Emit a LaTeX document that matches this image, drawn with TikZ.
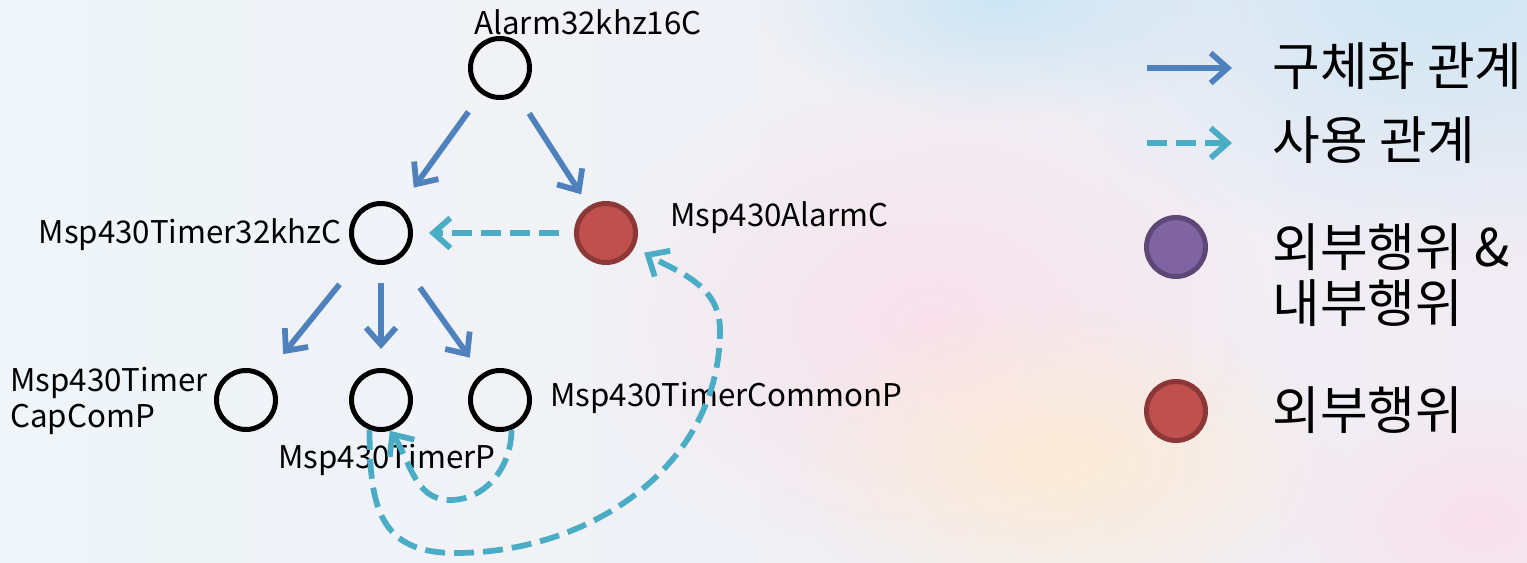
\documentclass[tikz,border=0pt]{standalone}
\usepackage{fontspec}
\setmainfont{Noto Sans CJK KR}
\usetikzlibrary{arrows.meta,fadings}

\definecolor{relblue}{HTML}{4F81BD}
\definecolor{usecyan}{HTML}{4BACC6}
\definecolor{extred}{HTML}{C0504D}
\definecolor{extredline}{HTML}{8C3836}
\definecolor{bothpurple}{HTML}{8064A2}
\definecolor{bothpurpleline}{HTML}{5C4776}
\definecolor{bgleft}{HTML}{EFF5F8}
\definecolor{bgright}{HTML}{F1ECF3}
\definecolor{bgblue}{HTML}{CDE6F4}
\definecolor{bgpink}{HTML}{F9E1EB}
\definecolor{bgpeach}{HTML}{FCEBD6}

\tikzfading[name=blob, inner color=transparent!0, outer color=transparent!100]

\begin{document}
\begin{tikzpicture}[x=0.02cm, y=0.02cm,
    comp/.style={circle, draw, line width=1mm, minimum size=11.8mm, inner sep=0pt},
    ext/.style={comp, fill=extred, draw=extredline},
    both/.style={comp, fill=bothpurple, draw=bothpurpleline},
    lbl/.style={font=\fontsize{17.8}{21}\selectfont, inner sep=0pt},
    key/.style={font=\fontsize{29.5}{31.7}\selectfont, inner sep=0pt, anchor=west, align=left},
    refine/.style={draw=relblue, line width=1.15mm, -{Straight Barb[length=3.4mm,width=6mm]}},
    uses/.style={draw=usecyan, line width=1.15mm, dash pattern=on 4mm off 1.8mm,
                 -{Straight Barb[length=3.4mm,width=6mm]}}]

    % backdrop
    \useasboundingbox (0,0) rectangle (1527,562);
    \shade[left color=bgleft, right color=bgright] (0,0) rectangle (1527,562);
    \fill[bgblue,  path fading=blob] (1440,580) ellipse (420 and 280);
    \fill[bgblue,  path fading=blob] (1000,560) ellipse (250 and 120);
    \fill[bgpink,  path fading=blob] (930,240)  ellipse (340 and 250);
    \fill[bgpeach, path fading=blob] (1060,100) ellipse (280 and 160);
    \fill[bgpink,  path fading=blob] (1480,40)  ellipse (200 and 130);

    % components
    \node[comp] (A)      at (500,494) {};
    \node[comp] (T32)    at (381,329) {};
    \node[ext]  (Alarm)  at (606,329) {};
    \node[comp] (CapCom) at (246,162) {};
    \node[comp] (TimerP) at (381,162) {};
    \node[comp] (Common) at (500,162) {};

    \node[lbl]                          (lA)      at (588,540) {Alarm32khz16C};
    \node[lbl, anchor=east]             (lT32)    at (342,327) {Msp430Timer32khzC};
    \node[lbl, anchor=west]             (lAlarm)  at (670,344) {Msp430AlarmC};
    \node[lbl, anchor=west, align=left] (lCapCom) at (10,161)  {Msp430Timer\\CapComP};
    \node[lbl]                          (lTimerP) at (387,102) {Msp430TimerP};
    \node[lbl, anchor=west]             (lCommon) at (550,164) {Msp430TimerCommonP};

    % refinement
    \draw[refine, shorten <=4.4mm, shorten >=4.8mm] (A)   -- (T32);
    \draw[refine, shorten <=4.4mm, shorten >=2.8mm] (A)   -- (Alarm);
    \draw[refine, shorten <=6.8mm, shorten >=5.4mm] (T32) -- (CapCom);
    \draw[refine, shorten <=3.6mm, shorten >=3.8mm] (T32) -- (TimerP);
    \draw[refine, shorten <=7mm,   shorten >=4mm]   (T32) -- (Common);

    % usage
    \draw[uses, shorten <=3mm, shorten >=3.2mm] (Alarm) -- (T32);
    \draw[uses, shorten >=2.2mm] (TimerP.-111) to[out=-90, in=180, looseness=1.3] (455,9)
        to[out=0, in=-90] (720,232) to[out=90, in=-31] (Alarm.-26);
    \draw[uses] (Common.-69) to[out=-90, in=0] (450,62) to[out=180, in=-55] (TimerP.-74);

    % key
    \coordinate (k1a) at (1147,494);
    \coordinate (k1b) at (1232,494);
    \coordinate (k2a) at (1147,419);
    \coordinate (k2b) at (1232,419);
    \draw[refine] (k1a) -- (k1b);
    \draw[uses]   (k2a) -- (k2b);
    \node[key]  (t1)    at (1272,496) {구체화 관계};
    \node[key]  (t2)    at (1272,422) {사용 관계};
    \node[both] (kboth) at (1176,315) {};
    \node[key]  (t3)    at (1272,287) {외부행위 \&\\내부행위};
    \node[ext]  (kext)  at (1176,151) {};
    \node[key]  (t4)    at (1272,152) {외부행위};
\end{tikzpicture}
\end{document}
